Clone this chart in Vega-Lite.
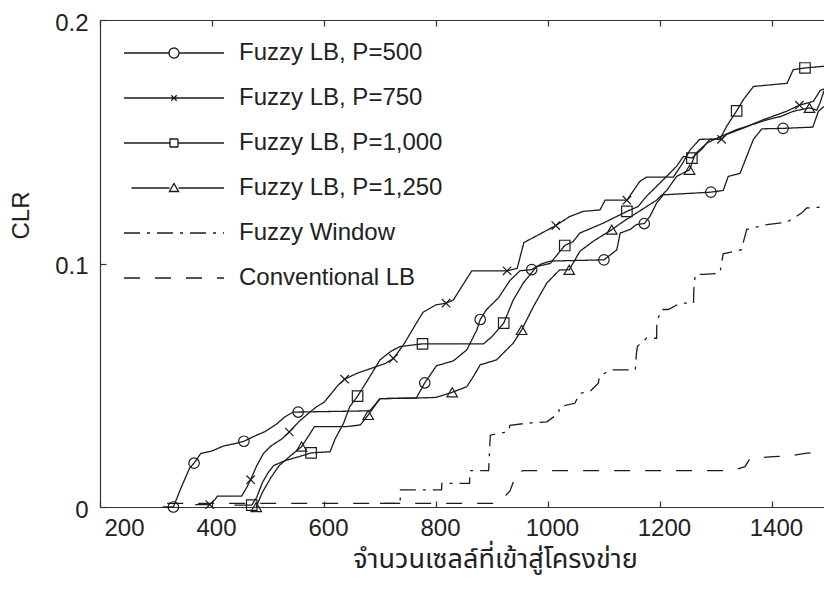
{
  "$schema": "https://vega.github.io/schema/vega-lite/v6.json",
  "autosize": {"type": "none"},
  "width": 724,
  "height": 487,
  "padding": {"left": 100, "top": 20, "right": 0, "bottom": 86},
  "background": "white",
  "config": {
    "view": {"stroke": null},
    "font": "Liberation Sans",
    "axis": {
      "domainColor": "#333",
      "tickColor": "#333",
      "labelColor": "#222",
      "titleColor": "#222",
      "labelFont": "Liberation Sans",
      "labelFontSize": 24,
      "titleFontSize": 24,
      "titleFontWeight": "normal",
      "grid": false,
      "tickSize": -6,
      "domainWidth": 1.2,
      "tickWidth": 1.2
    }
  },
  "datasets": {
    "curves": [
      {"s": "Fuzzy LB, P=500", "x": 312, "y": 0},
      {"s": "Fuzzy LB, P=500", "x": 331, "y": 0},
      {"s": "Fuzzy LB, P=500", "x": 345, "y": 0.008},
      {"s": "Fuzzy LB, P=500", "x": 360, "y": 0.016},
      {"s": "Fuzzy LB, P=500", "x": 368, "y": 0.018},
      {"s": "Fuzzy LB, P=500", "x": 380, "y": 0.022},
      {"s": "Fuzzy LB, P=500", "x": 400, "y": 0.023},
      {"s": "Fuzzy LB, P=500", "x": 420, "y": 0.025},
      {"s": "Fuzzy LB, P=500", "x": 440, "y": 0.026},
      {"s": "Fuzzy LB, P=500", "x": 457, "y": 0.027},
      {"s": "Fuzzy LB, P=500", "x": 475, "y": 0.029},
      {"s": "Fuzzy LB, P=500", "x": 495, "y": 0.031},
      {"s": "Fuzzy LB, P=500", "x": 515, "y": 0.034},
      {"s": "Fuzzy LB, P=500", "x": 530, "y": 0.037},
      {"s": "Fuzzy LB, P=500", "x": 545, "y": 0.039},
      {"s": "Fuzzy LB, P=500", "x": 554, "y": 0.039},
      {"s": "Fuzzy LB, P=500", "x": 682, "y": 0.0395},
      {"s": "Fuzzy LB, P=500", "x": 700, "y": 0.0445},
      {"s": "Fuzzy LB, P=500", "x": 765, "y": 0.0448},
      {"s": "Fuzzy LB, P=500", "x": 780, "y": 0.051},
      {"s": "Fuzzy LB, P=500", "x": 801, "y": 0.058},
      {"s": "Fuzzy LB, P=500", "x": 831, "y": 0.06},
      {"s": "Fuzzy LB, P=500", "x": 855, "y": 0.0645},
      {"s": "Fuzzy LB, P=500", "x": 873, "y": 0.0727},
      {"s": "Fuzzy LB, P=500", "x": 879, "y": 0.077},
      {"s": "Fuzzy LB, P=500", "x": 890, "y": 0.081},
      {"s": "Fuzzy LB, P=500", "x": 912, "y": 0.086},
      {"s": "Fuzzy LB, P=500", "x": 932, "y": 0.093},
      {"s": "Fuzzy LB, P=500", "x": 950, "y": 0.097},
      {"s": "Fuzzy LB, P=500", "x": 971, "y": 0.0975},
      {"s": "Fuzzy LB, P=500", "x": 990, "y": 0.1},
      {"s": "Fuzzy LB, P=500", "x": 1005, "y": 0.101},
      {"s": "Fuzzy LB, P=500", "x": 1100, "y": 0.1015},
      {"s": "Fuzzy LB, P=500", "x": 1123, "y": 0.1056},
      {"s": "Fuzzy LB, P=500", "x": 1129, "y": 0.1125},
      {"s": "Fuzzy LB, P=500", "x": 1147, "y": 0.114},
      {"s": "Fuzzy LB, P=500", "x": 1158, "y": 0.116},
      {"s": "Fuzzy LB, P=500", "x": 1172, "y": 0.1164},
      {"s": "Fuzzy LB, P=500", "x": 1182, "y": 0.1193},
      {"s": "Fuzzy LB, P=500", "x": 1194, "y": 0.1248},
      {"s": "Fuzzy LB, P=500", "x": 1206, "y": 0.1282},
      {"s": "Fuzzy LB, P=500", "x": 1291, "y": 0.1293},
      {"s": "Fuzzy LB, P=500", "x": 1313, "y": 0.13},
      {"s": "Fuzzy LB, P=500", "x": 1322, "y": 0.1358},
      {"s": "Fuzzy LB, P=500", "x": 1343, "y": 0.137},
      {"s": "Fuzzy LB, P=500", "x": 1367, "y": 0.151},
      {"s": "Fuzzy LB, P=500", "x": 1382, "y": 0.1553},
      {"s": "Fuzzy LB, P=500", "x": 1420, "y": 0.1555},
      {"s": "Fuzzy LB, P=500", "x": 1473, "y": 0.156},
      {"s": "Fuzzy LB, P=500", "x": 1483, "y": 0.1625},
      {"s": "Fuzzy LB, P=500", "x": 1493, "y": 0.1645},

      {"s": "Fuzzy LB, P=750", "x": 370, "y": 0.001},
      {"s": "Fuzzy LB, P=750", "x": 396, "y": 0.001},
      {"s": "Fuzzy LB, P=750", "x": 405, "y": 0.003},
      {"s": "Fuzzy LB, P=750", "x": 410, "y": 0.0045},
      {"s": "Fuzzy LB, P=750", "x": 453, "y": 0.0045},
      {"s": "Fuzzy LB, P=750", "x": 462, "y": 0.008},
      {"s": "Fuzzy LB, P=750", "x": 469, "y": 0.0112},
      {"s": "Fuzzy LB, P=750", "x": 480, "y": 0.017},
      {"s": "Fuzzy LB, P=750", "x": 492, "y": 0.022},
      {"s": "Fuzzy LB, P=750", "x": 505, "y": 0.025},
      {"s": "Fuzzy LB, P=750", "x": 525, "y": 0.028},
      {"s": "Fuzzy LB, P=750", "x": 538, "y": 0.0308},
      {"s": "Fuzzy LB, P=750", "x": 555, "y": 0.035},
      {"s": "Fuzzy LB, P=750", "x": 575, "y": 0.039},
      {"s": "Fuzzy LB, P=750", "x": 587, "y": 0.0412},
      {"s": "Fuzzy LB, P=750", "x": 600, "y": 0.043},
      {"s": "Fuzzy LB, P=750", "x": 611, "y": 0.046},
      {"s": "Fuzzy LB, P=750", "x": 625, "y": 0.05},
      {"s": "Fuzzy LB, P=750", "x": 637, "y": 0.0525},
      {"s": "Fuzzy LB, P=750", "x": 660, "y": 0.055},
      {"s": "Fuzzy LB, P=750", "x": 694, "y": 0.0577},
      {"s": "Fuzzy LB, P=750", "x": 710, "y": 0.059},
      {"s": "Fuzzy LB, P=750", "x": 724, "y": 0.061},
      {"s": "Fuzzy LB, P=750", "x": 742, "y": 0.0666},
      {"s": "Fuzzy LB, P=750", "x": 765, "y": 0.0755},
      {"s": "Fuzzy LB, P=750", "x": 777, "y": 0.08},
      {"s": "Fuzzy LB, P=750", "x": 800, "y": 0.083},
      {"s": "Fuzzy LB, P=750", "x": 818, "y": 0.0837},
      {"s": "Fuzzy LB, P=750", "x": 831, "y": 0.085},
      {"s": "Fuzzy LB, P=750", "x": 846, "y": 0.0905},
      {"s": "Fuzzy LB, P=750", "x": 864, "y": 0.097},
      {"s": "Fuzzy LB, P=750", "x": 927, "y": 0.097},
      {"s": "Fuzzy LB, P=750", "x": 945, "y": 0.098},
      {"s": "Fuzzy LB, P=750", "x": 957, "y": 0.1086},
      {"s": "Fuzzy LB, P=750", "x": 985, "y": 0.112},
      {"s": "Fuzzy LB, P=750", "x": 1014, "y": 0.1156},
      {"s": "Fuzzy LB, P=750", "x": 1039, "y": 0.1193},
      {"s": "Fuzzy LB, P=750", "x": 1063, "y": 0.1214},
      {"s": "Fuzzy LB, P=750", "x": 1093, "y": 0.122},
      {"s": "Fuzzy LB, P=750", "x": 1102, "y": 0.126},
      {"s": "Fuzzy LB, P=750", "x": 1141, "y": 0.126},
      {"s": "Fuzzy LB, P=750", "x": 1164, "y": 0.1337},
      {"s": "Fuzzy LB, P=750", "x": 1176, "y": 0.1355},
      {"s": "Fuzzy LB, P=750", "x": 1224, "y": 0.1355},
      {"s": "Fuzzy LB, P=750", "x": 1240, "y": 0.141},
      {"s": "Fuzzy LB, P=750", "x": 1254, "y": 0.1467},
      {"s": "Fuzzy LB, P=750", "x": 1271, "y": 0.151},
      {"s": "Fuzzy LB, P=750", "x": 1295, "y": 0.1511},
      {"s": "Fuzzy LB, P=750", "x": 1310, "y": 0.151},
      {"s": "Fuzzy LB, P=750", "x": 1319, "y": 0.153},
      {"s": "Fuzzy LB, P=750", "x": 1349, "y": 0.1556},
      {"s": "Fuzzy LB, P=750", "x": 1384, "y": 0.159},
      {"s": "Fuzzy LB, P=750", "x": 1426, "y": 0.1625},
      {"s": "Fuzzy LB, P=750", "x": 1449, "y": 0.165},
      {"s": "Fuzzy LB, P=750", "x": 1474, "y": 0.1666},
      {"s": "Fuzzy LB, P=750", "x": 1486, "y": 0.171},
      {"s": "Fuzzy LB, P=750", "x": 1493, "y": 0.1717},

      {"s": "Fuzzy LB, P=1,000", "x": 440, "y": 0.0008},
      {"s": "Fuzzy LB, P=1,000", "x": 471, "y": 0.0008},
      {"s": "Fuzzy LB, P=1,000", "x": 480, "y": 0.004},
      {"s": "Fuzzy LB, P=1,000", "x": 490, "y": 0.01},
      {"s": "Fuzzy LB, P=1,000", "x": 500, "y": 0.014},
      {"s": "Fuzzy LB, P=1,000", "x": 510, "y": 0.017},
      {"s": "Fuzzy LB, P=1,000", "x": 530, "y": 0.019},
      {"s": "Fuzzy LB, P=1,000", "x": 560, "y": 0.021},
      {"s": "Fuzzy LB, P=1,000", "x": 577, "y": 0.0222},
      {"s": "Fuzzy LB, P=1,000", "x": 611, "y": 0.0227},
      {"s": "Fuzzy LB, P=1,000", "x": 620, "y": 0.028},
      {"s": "Fuzzy LB, P=1,000", "x": 635, "y": 0.0344},
      {"s": "Fuzzy LB, P=1,000", "x": 646, "y": 0.0412},
      {"s": "Fuzzy LB, P=1,000", "x": 660, "y": 0.0455},
      {"s": "Fuzzy LB, P=1,000", "x": 682, "y": 0.0536},
      {"s": "Fuzzy LB, P=1,000", "x": 700, "y": 0.0604},
      {"s": "Fuzzy LB, P=1,000", "x": 720, "y": 0.064},
      {"s": "Fuzzy LB, P=1,000", "x": 736, "y": 0.0659},
      {"s": "Fuzzy LB, P=1,000", "x": 776, "y": 0.067},
      {"s": "Fuzzy LB, P=1,000", "x": 885, "y": 0.067},
      {"s": "Fuzzy LB, P=1,000", "x": 900, "y": 0.07},
      {"s": "Fuzzy LB, P=1,000", "x": 921, "y": 0.0755},
      {"s": "Fuzzy LB, P=1,000", "x": 938, "y": 0.085},
      {"s": "Fuzzy LB, P=1,000", "x": 956, "y": 0.092},
      {"s": "Fuzzy LB, P=1,000", "x": 980, "y": 0.0988},
      {"s": "Fuzzy LB, P=1,000", "x": 1004, "y": 0.1},
      {"s": "Fuzzy LB, P=1,000", "x": 1018, "y": 0.104},
      {"s": "Fuzzy LB, P=1,000", "x": 1030, "y": 0.1074},
      {"s": "Fuzzy LB, P=1,000", "x": 1045, "y": 0.109},
      {"s": "Fuzzy LB, P=1,000", "x": 1057, "y": 0.1125},
      {"s": "Fuzzy LB, P=1,000", "x": 1099, "y": 0.1166},
      {"s": "Fuzzy LB, P=1,000", "x": 1141, "y": 0.1214},
      {"s": "Fuzzy LB, P=1,000", "x": 1161, "y": 0.1234},
      {"s": "Fuzzy LB, P=1,000", "x": 1176, "y": 0.1276},
      {"s": "Fuzzy LB, P=1,000", "x": 1212, "y": 0.1358},
      {"s": "Fuzzy LB, P=1,000", "x": 1230, "y": 0.14},
      {"s": "Fuzzy LB, P=1,000", "x": 1242, "y": 0.144},
      {"s": "Fuzzy LB, P=1,000", "x": 1257, "y": 0.1433},
      {"s": "Fuzzy LB, P=1,000", "x": 1275, "y": 0.147},
      {"s": "Fuzzy LB, P=1,000", "x": 1289, "y": 0.151},
      {"s": "Fuzzy LB, P=1,000", "x": 1307, "y": 0.151},
      {"s": "Fuzzy LB, P=1,000", "x": 1319, "y": 0.1563},
      {"s": "Fuzzy LB, P=1,000", "x": 1337, "y": 0.1627},
      {"s": "Fuzzy LB, P=1,000", "x": 1349, "y": 0.1673},
      {"s": "Fuzzy LB, P=1,000", "x": 1367, "y": 0.1727},
      {"s": "Fuzzy LB, P=1,000", "x": 1427, "y": 0.174},
      {"s": "Fuzzy LB, P=1,000", "x": 1438, "y": 0.1796},
      {"s": "Fuzzy LB, P=1,000", "x": 1459, "y": 0.1803},
      {"s": "Fuzzy LB, P=1,000", "x": 1493, "y": 0.181},

      {"s": "Fuzzy LB, P=1,250", "x": 479, "y": 0},
      {"s": "Fuzzy LB, P=1,250", "x": 490, "y": 0.006},
      {"s": "Fuzzy LB, P=1,250", "x": 505, "y": 0.012},
      {"s": "Fuzzy LB, P=1,250", "x": 520, "y": 0.017},
      {"s": "Fuzzy LB, P=1,250", "x": 540, "y": 0.021},
      {"s": "Fuzzy LB, P=1,250", "x": 560, "y": 0.0248},
      {"s": "Fuzzy LB, P=1,250", "x": 572, "y": 0.029},
      {"s": "Fuzzy LB, P=1,250", "x": 583, "y": 0.033},
      {"s": "Fuzzy LB, P=1,250", "x": 640, "y": 0.033},
      {"s": "Fuzzy LB, P=1,250", "x": 665, "y": 0.0337},
      {"s": "Fuzzy LB, P=1,250", "x": 679, "y": 0.0378},
      {"s": "Fuzzy LB, P=1,250", "x": 700, "y": 0.0445},
      {"s": "Fuzzy LB, P=1,250", "x": 760, "y": 0.0447},
      {"s": "Fuzzy LB, P=1,250", "x": 800, "y": 0.045},
      {"s": "Fuzzy LB, P=1,250", "x": 829, "y": 0.0471},
      {"s": "Fuzzy LB, P=1,250", "x": 855, "y": 0.0494},
      {"s": "Fuzzy LB, P=1,250", "x": 868, "y": 0.054},
      {"s": "Fuzzy LB, P=1,250", "x": 879, "y": 0.0584},
      {"s": "Fuzzy LB, P=1,250", "x": 908, "y": 0.0604},
      {"s": "Fuzzy LB, P=1,250", "x": 938, "y": 0.0673},
      {"s": "Fuzzy LB, P=1,250", "x": 953, "y": 0.0727},
      {"s": "Fuzzy LB, P=1,250", "x": 974, "y": 0.0823},
      {"s": "Fuzzy LB, P=1,250", "x": 998, "y": 0.092},
      {"s": "Fuzzy LB, P=1,250", "x": 1021, "y": 0.0974},
      {"s": "Fuzzy LB, P=1,250", "x": 1038, "y": 0.0974},
      {"s": "Fuzzy LB, P=1,250", "x": 1057, "y": 0.105},
      {"s": "Fuzzy LB, P=1,250", "x": 1080, "y": 0.109},
      {"s": "Fuzzy LB, P=1,250", "x": 1114, "y": 0.1139},
      {"s": "Fuzzy LB, P=1,250", "x": 1135, "y": 0.1173},
      {"s": "Fuzzy LB, P=1,250", "x": 1158, "y": 0.1207},
      {"s": "Fuzzy LB, P=1,250", "x": 1194, "y": 0.126},
      {"s": "Fuzzy LB, P=1,250", "x": 1212, "y": 0.13},
      {"s": "Fuzzy LB, P=1,250", "x": 1230, "y": 0.1358},
      {"s": "Fuzzy LB, P=1,250", "x": 1253, "y": 0.1385},
      {"s": "Fuzzy LB, P=1,250", "x": 1263, "y": 0.145},
      {"s": "Fuzzy LB, P=1,250", "x": 1284, "y": 0.1495},
      {"s": "Fuzzy LB, P=1,250", "x": 1307, "y": 0.152},
      {"s": "Fuzzy LB, P=1,250", "x": 1337, "y": 0.155},
      {"s": "Fuzzy LB, P=1,250", "x": 1391, "y": 0.159},
      {"s": "Fuzzy LB, P=1,250", "x": 1416, "y": 0.1604},
      {"s": "Fuzzy LB, P=1,250", "x": 1438, "y": 0.1625},
      {"s": "Fuzzy LB, P=1,250", "x": 1467, "y": 0.1639},
      {"s": "Fuzzy LB, P=1,250", "x": 1480, "y": 0.163},
      {"s": "Fuzzy LB, P=1,250", "x": 1486, "y": 0.166},
      {"s": "Fuzzy LB, P=1,250", "x": 1493, "y": 0.171},

      {"s": "Fuzzy Window", "x": 700, "y": 0.0015},
      {"s": "Fuzzy Window", "x": 736, "y": 0.0015},
      {"s": "Fuzzy Window", "x": 736.5, "y": 0.007},
      {"s": "Fuzzy Window", "x": 810, "y": 0.007},
      {"s": "Fuzzy Window", "x": 810.5, "y": 0.0097},
      {"s": "Fuzzy Window", "x": 860, "y": 0.0097},
      {"s": "Fuzzy Window", "x": 860.5, "y": 0.0149},
      {"s": "Fuzzy Window", "x": 894, "y": 0.0149},
      {"s": "Fuzzy Window", "x": 895, "y": 0.0193},
      {"s": "Fuzzy Window", "x": 897, "y": 0.0295},
      {"s": "Fuzzy Window", "x": 930, "y": 0.031},
      {"s": "Fuzzy Window", "x": 932, "y": 0.0335},
      {"s": "Fuzzy Window", "x": 962, "y": 0.0344},
      {"s": "Fuzzy Window", "x": 998, "y": 0.035},
      {"s": "Fuzzy Window", "x": 1019, "y": 0.0385},
      {"s": "Fuzzy Window", "x": 1021, "y": 0.0412},
      {"s": "Fuzzy Window", "x": 1048, "y": 0.0426},
      {"s": "Fuzzy Window", "x": 1057, "y": 0.0467},
      {"s": "Fuzzy Window", "x": 1075, "y": 0.0474},
      {"s": "Fuzzy Window", "x": 1090, "y": 0.0508},
      {"s": "Fuzzy Window", "x": 1092, "y": 0.0536},
      {"s": "Fuzzy Window", "x": 1111, "y": 0.0563},
      {"s": "Fuzzy Window", "x": 1156, "y": 0.0563},
      {"s": "Fuzzy Window", "x": 1158, "y": 0.0632},
      {"s": "Fuzzy Window", "x": 1160, "y": 0.066},
      {"s": "Fuzzy Window", "x": 1176, "y": 0.0693},
      {"s": "Fuzzy Window", "x": 1194, "y": 0.0693},
      {"s": "Fuzzy Window", "x": 1194.5, "y": 0.0762},
      {"s": "Fuzzy Window", "x": 1203, "y": 0.0811},
      {"s": "Fuzzy Window", "x": 1215, "y": 0.0811},
      {"s": "Fuzzy Window", "x": 1236, "y": 0.0837},
      {"s": "Fuzzy Window", "x": 1260, "y": 0.0837},
      {"s": "Fuzzy Window", "x": 1260.5, "y": 0.0892},
      {"s": "Fuzzy Window", "x": 1263, "y": 0.0955},
      {"s": "Fuzzy Window", "x": 1277, "y": 0.0955},
      {"s": "Fuzzy Window", "x": 1307, "y": 0.096},
      {"s": "Fuzzy Window", "x": 1313, "y": 0.104},
      {"s": "Fuzzy Window", "x": 1346, "y": 0.1057},
      {"s": "Fuzzy Window", "x": 1347, "y": 0.107},
      {"s": "Fuzzy Window", "x": 1355, "y": 0.114},
      {"s": "Fuzzy Window", "x": 1391, "y": 0.116},
      {"s": "Fuzzy Window", "x": 1427, "y": 0.117},
      {"s": "Fuzzy Window", "x": 1453, "y": 0.1207},
      {"s": "Fuzzy Window", "x": 1462, "y": 0.1228},
      {"s": "Fuzzy Window", "x": 1493, "y": 0.1232},

      {"s": "Conventional LB", "x": 320, "y": 0.0015},
      {"s": "Conventional LB", "x": 905, "y": 0.0015},
      {"s": "Conventional LB", "x": 917, "y": 0.003},
      {"s": "Conventional LB", "x": 932, "y": 0.0065},
      {"s": "Conventional LB", "x": 945, "y": 0.0145},
      {"s": "Conventional LB", "x": 957, "y": 0.0149},
      {"s": "Conventional LB", "x": 1328, "y": 0.0149},
      {"s": "Conventional LB", "x": 1352, "y": 0.0166},
      {"s": "Conventional LB", "x": 1361, "y": 0.02},
      {"s": "Conventional LB", "x": 1402, "y": 0.0207},
      {"s": "Conventional LB", "x": 1432, "y": 0.021},
      {"s": "Conventional LB", "x": 1459, "y": 0.022},
      {"s": "Conventional LB", "x": 1493, "y": 0.0228}
    ],
    "markers": [
      {"s": "Fuzzy LB, P=500", "x": 331, "y": 0},
      {"s": "Fuzzy LB, P=500", "x": 368, "y": 0.018},
      {"s": "Fuzzy LB, P=500", "x": 457, "y": 0.027},
      {"s": "Fuzzy LB, P=500", "x": 554, "y": 0.039},
      {"s": "Fuzzy LB, P=500", "x": 780, "y": 0.051},
      {"s": "Fuzzy LB, P=500", "x": 879, "y": 0.077},
      {"s": "Fuzzy LB, P=500", "x": 971, "y": 0.0975},
      {"s": "Fuzzy LB, P=500", "x": 1100, "y": 0.1015},
      {"s": "Fuzzy LB, P=500", "x": 1172, "y": 0.1164},
      {"s": "Fuzzy LB, P=500", "x": 1291, "y": 0.1293},
      {"s": "Fuzzy LB, P=500", "x": 1420, "y": 0.1555},
      {"s": "Fuzzy LB, P=750", "x": 396, "y": 0.001},
      {"s": "Fuzzy LB, P=750", "x": 469, "y": 0.0112},
      {"s": "Fuzzy LB, P=750", "x": 538, "y": 0.0308},
      {"s": "Fuzzy LB, P=750", "x": 637, "y": 0.0525},
      {"s": "Fuzzy LB, P=750", "x": 724, "y": 0.061},
      {"s": "Fuzzy LB, P=750", "x": 818, "y": 0.0837},
      {"s": "Fuzzy LB, P=750", "x": 927, "y": 0.097},
      {"s": "Fuzzy LB, P=750", "x": 1014, "y": 0.1156},
      {"s": "Fuzzy LB, P=750", "x": 1141, "y": 0.126},
      {"s": "Fuzzy LB, P=750", "x": 1310, "y": 0.151},
      {"s": "Fuzzy LB, P=750", "x": 1449, "y": 0.165},
      {"s": "Fuzzy LB, P=1,000", "x": 471, "y": 0.0008},
      {"s": "Fuzzy LB, P=1,000", "x": 577, "y": 0.0222},
      {"s": "Fuzzy LB, P=1,000", "x": 660, "y": 0.0455},
      {"s": "Fuzzy LB, P=1,000", "x": 776, "y": 0.067},
      {"s": "Fuzzy LB, P=1,000", "x": 921, "y": 0.0755},
      {"s": "Fuzzy LB, P=1,000", "x": 1030, "y": 0.1074},
      {"s": "Fuzzy LB, P=1,000", "x": 1141, "y": 0.1214},
      {"s": "Fuzzy LB, P=1,000", "x": 1257, "y": 0.1433},
      {"s": "Fuzzy LB, P=1,000", "x": 1337, "y": 0.1627},
      {"s": "Fuzzy LB, P=1,000", "x": 1459, "y": 0.1803},
      {"s": "Fuzzy LB, P=1,250", "x": 479, "y": 0},
      {"s": "Fuzzy LB, P=1,250", "x": 560, "y": 0.0248},
      {"s": "Fuzzy LB, P=1,250", "x": 679, "y": 0.0378},
      {"s": "Fuzzy LB, P=1,250", "x": 829, "y": 0.0471},
      {"s": "Fuzzy LB, P=1,250", "x": 953, "y": 0.0727},
      {"s": "Fuzzy LB, P=1,250", "x": 1038, "y": 0.0974},
      {"s": "Fuzzy LB, P=1,250", "x": 1114, "y": 0.1139},
      {"s": "Fuzzy LB, P=1,250", "x": 1253, "y": 0.1385},
      {"s": "Fuzzy LB, P=1,250", "x": 1467, "y": 0.1639}
    ]
  },
  "layer": [
    {
      "data": {"name": "curves"},
      "mark": {"type": "line", "color": "#1c1c1c", "strokeCap": "butt"},
      "encoding": {
        "x": {
          "field": "x", "type": "quantitative",
          "scale": {"domain": [200, 1493], "nice": false, "zero": false},
          "axis": {
            "orient": "bottom",
            "values": [200, 400, 600, 800, 1000, 1200, 1400],
            "format": "d",
            "labelPadding": 15,
            "labelOffset": 4,
            "title": "จำนวนเซลล์ที่เข้าสู่โครงข่าย",
            "titleFont": "Noto Sans Thai, Noto Sans, sans-serif",
            "titleFontSize": 27,
            "titleX": 395,
            "titleY": 52,
            "titleBaseline": "middle",
            "titleAnchor": "middle",
            "titleAlign": "center"
          }
        },
        "y": {
          "field": "y", "type": "quantitative",
          "scale": {"domain": [0, 0.2], "nice": false},
          "axis": {
            "values": [0, 0.1, 0.2],
            "format": ".1~f",
            "labelPadding": 18,
            "labelOffset": 3,
            "title": "CLR",
            "titleFont": "Liberation Sans",
            "titleX": -79,
            "titleY": 195,
            "titleAngle": 270,
            "titleBaseline": "middle",
            "titleAlign": "center"
          }
        },
        "strokeDash": {
          "field": "s", "type": "nominal",
          "scale": {
            "domain": ["Fuzzy LB, P=500", "Fuzzy LB, P=750", "Fuzzy LB, P=1,000", "Fuzzy LB, P=1,250", "Fuzzy Window", "Conventional LB"],
            "range": [[1, 0], [1, 0], [1, 0], [1, 0], [16, 7, 3, 7], [16, 15]]
          },
          "legend": {
            "orient": "none",
            "legendX": 48,
            "legendY": 7,
            "title": null,
            "padding": 0,
            "symbolSize": 2500,
            "symbolStrokeColor": "#1c1c1c",
            "symbolFillColor": "transparent",
            "labelFont": "Liberation Sans",
            "labelFontSize": 24,
            "labelColor": "#222",
            "labelOffset": 39,
            "rowPadding": 7,
            "labelLimit": 400,
            "encode": {
              "symbols": {
                "update": {
                  "shape": {"signal": "datum.value === 'Fuzzy LB, P=500' ? 'M-2,0H-0.2A0.2,0.2 0 1,1 0.2,0A0.2,0.2 0 1,1 -0.2,0M0.2,0H2' : datum.value === 'Fuzzy LB, P=750' ? 'M-2,0H2M-0.11,-0.11L0.11,0.11M-0.11,0.11L0.11,-0.11' : datum.value === 'Fuzzy LB, P=1,000' ? 'M-2,0H-0.16M0.16,0H2M-0.16,-0.16H0.16V0.16H-0.16Z' : datum.value === 'Fuzzy LB, P=1,250' ? 'M-1.7,0H-0.18M0.18,0H2M0,-0.18L0.18,0.14H-0.18Z' : 'M-2,0H2'"}
                }
              }
            }
          }
        },
        "strokeWidth": {
          "field": "s", "type": "nominal",
          "scale": {
            "domain": ["Fuzzy LB, P=500", "Fuzzy LB, P=750", "Fuzzy LB, P=1,000", "Fuzzy LB, P=1,250", "Fuzzy Window", "Conventional LB"],
            "range": [1.3, 1.3, 1.3, 1.3, 1.3, 2.4]
          }
        }
      }
    },
    {
      "data": {"name": "markers"},
      "mark": {"type": "point", "filled": false, "color": "#1c1c1c", "strokeWidth": 1.2, "size": 110, "opacity": 1},
      "encoding": {
        "x": {
          "field": "x", "type": "quantitative",
          "scale": {"domain": [200, 1493], "nice": false, "zero": false},
          "axis": {"orient": "top", "labels": false, "title": null, "values": [200, 400, 600, 800, 1000, 1200, 1400]}
        },
        "y": {"field": "y", "type": "quantitative"},
        "shape": {
          "field": "s", "type": "nominal",
          "scale": {
            "domain": ["Fuzzy LB, P=500", "Fuzzy LB, P=750", "Fuzzy LB, P=1,000", "Fuzzy LB, P=1,250"],
            "range": ["circle", "M-0.8,-0.8L0.8,0.8M-0.8,0.8L0.8,-0.8", "square", "triangle-up"]
          },
          "legend": null
        }
      }
    }
  ],
  "resolve": {"scale": {"x": "independent"}, "axis": {"x": "independent"}}
}
